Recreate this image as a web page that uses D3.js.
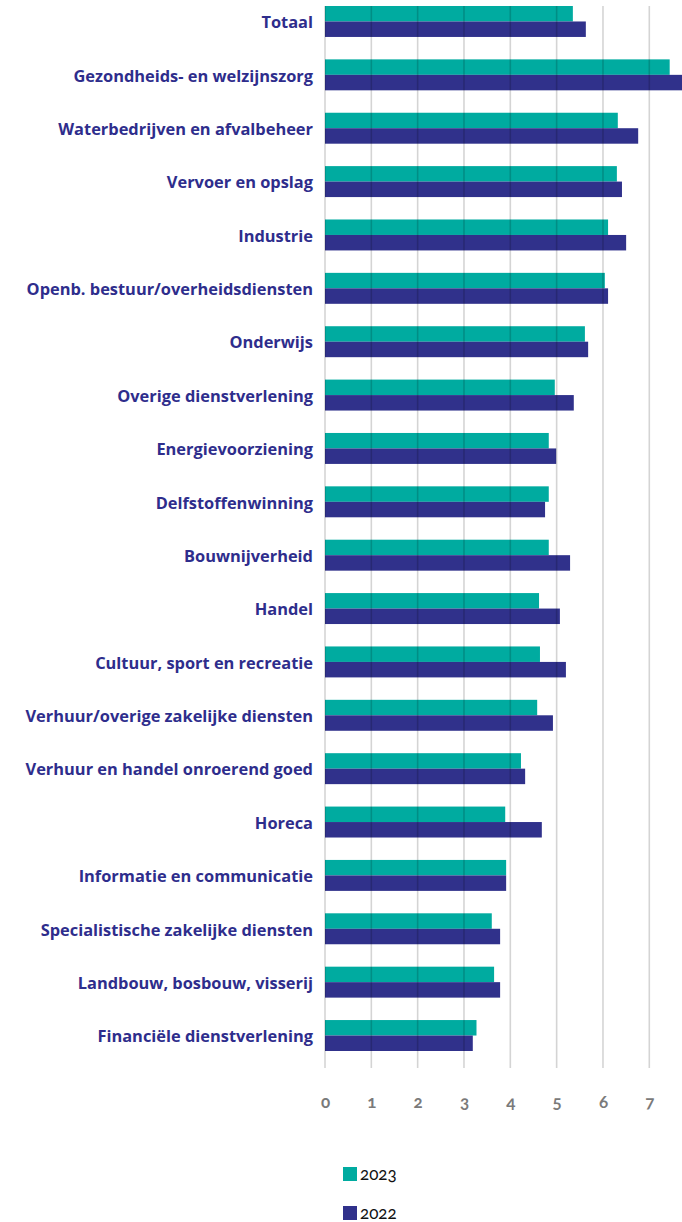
<!DOCTYPE html>
<html>
<head>
<meta charset="utf-8">
<script src="https://cdn.jsdelivr.net/npm/d3@7"></script>
<style>
  html, body { margin: 0; padding: 0; background: #fff; }
  svg { display: block; }
  .cat { font-family: "Open Sans", sans-serif; font-weight: 700; font-size: 16.4px; fill: #2e2d8c; }
  .tick text { font-family: Lato, "Open Sans", sans-serif; font-weight: 700; font-size: 17px; fill: #7a7a7a; font-variant-numeric: oldstyle-nums; }
  .leg { font-family: Lato, "Open Sans", sans-serif; font-size: 17px; fill: #111; font-variant-numeric: oldstyle-nums; }
</style>
</head>
<body>
<svg id="chart" width="682" height="1222"></svg>
<script>
const categories = [
  "Totaal",
  "Gezondheids- en welzijnszorg",
  "Waterbedrijven en afvalbeheer",
  "Vervoer en opslag",
  "Industrie",
  "Openb. bestuur/overheidsdiensten",
  "Onderwijs",
  "Overige dienstverlening",
  "Energievoorziening",
  "Delfstoffenwinning",
  "Bouwnijverheid",
  "Handel",
  "Cultuur, sport en recreatie",
  "Verhuur/overige zakelijke diensten",
  "Verhuur en handel onroerend goed",
  "Horeca",
  "Informatie en communicatie",
  "Specialistische zakelijke diensten",
  "Landbouw, bosbouw, visserij",
  "Financiële dienstverlening"
];
const values2023 = [5.35, 7.44, 6.32, 6.30, 6.11, 6.04, 5.61, 4.96, 4.83, 4.83, 4.83, 4.62, 4.64, 4.58, 4.23, 3.89, 3.91, 3.60, 3.65, 3.27];
const values2022 = [5.63, 7.75, 6.76, 6.41, 6.50, 6.11, 5.68, 5.37, 4.99, 4.75, 5.29, 5.07, 5.20, 4.92, 4.32, 4.68, 3.91, 3.78, 3.78, 3.19];
const seriesNames = ["2023", "2022"];
const tickValues = [0, 1, 2, 3, 4, 5, 6, 7];
const tickLabels = ["0", "1", "2", "3", "4", "5", "6", "7"];

const colors = { "2023": "#00aba0", "2022": "#30318b" };

const svg = d3.select("#chart");
const x = d3.scaleLinear().domain([0, 7]).range([325, 649.3]);
const y = d3.scaleBand().domain(categories).range([6, 1051]).paddingInner(0.42).paddingOuter(0);
const ySub = d3.scaleBand().domain(seriesNames).range([0, y.bandwidth()]).padding(0);

const data = categories.map((c, i) => ({ cat: c, "2023": values2023[i], "2022": values2022[i] }));

// bars
const g = svg.append("g");
const groups = g.selectAll("g.grp").data(data).join("g")
  .attr("class", "grp")
  .attr("transform", d => `translate(0,${y(d.cat)})`);
groups.selectAll("rect").data(d => seriesNames.map(s => ({ s, v: d[s] }))).join("rect")
  .attr("x", x(0))
  .attr("y", d => ySub(d.s))
  .attr("width", d => x(d.v) - x(0))
  .attr("height", ySub.bandwidth())
  .attr("fill", d => colors[d.s]);

// gridlines on top
svg.append("g").selectAll("line").data(tickValues).join("line")
  .attr("x1", d => x(d)).attr("x2", d => x(d))
  .attr("y1", 6).attr("y2", 1068)
  .attr("stroke", "rgba(0,0,0,0.17)")
  .attr("stroke-width", 1.6);

// category labels
svg.append("g").selectAll("text").data(categories).join("text")
  .attr("class", "cat")
  .attr("x", 313)
  .attr("y", d => y(d) + y.bandwidth() / 2 + 1)
  .attr("dy", "0.35em")
  .attr("text-anchor", "end")
  .text(d => d);

// x axis
const axis = d3.axisBottom(x).tickValues(tickValues).tickFormat((d, i) => tickLabels[i]).tickSize(0).tickPadding(0);
const ax = svg.append("g").attr("transform", "translate(0,1096)").call(axis);
ax.select(".domain").remove();

// legend
const leg = svg.append("g");
const legY = [1167, 1206];
seriesNames.forEach((s, i) => {
  leg.append("rect").attr("x", 343).attr("y", legY[i]).attr("width", 14).attr("height", 14).attr("fill", colors[s]);
  leg.append("text").attr("class", "leg").attr("x", 360).attr("y", legY[i] + 13).text(s);
});
</script>
</body>
</html>
